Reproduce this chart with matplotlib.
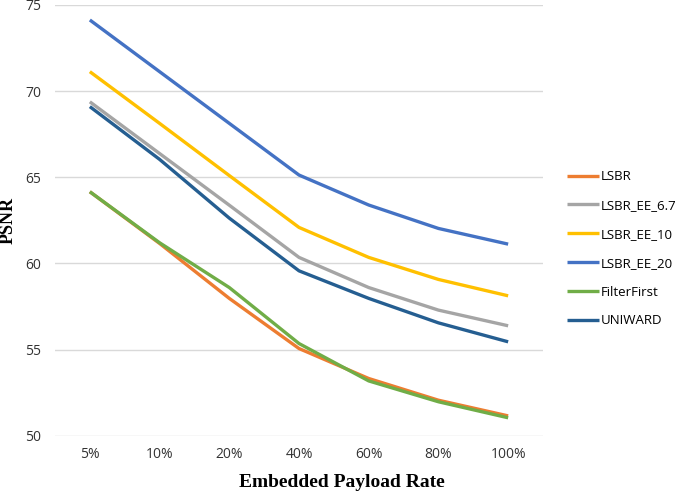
import matplotlib
matplotlib.use("Agg")
import matplotlib.pyplot as plt

categories = ["5%", "10%", "20%", "40%", "60%", "80%", "100%"]
lsbr = [64.16, 61.16, 57.97, 55.06, 53.32, 52.06, 51.15]
lsbr_ee_67 = [69.38, 66.38, 63.38, 60.35, 58.6, 57.29, 56.38]
lsbr_ee_10 = [71.13, 68.13, 65.1, 62.09, 60.35, 59.07, 58.12]
lsbr_ee_20 = [74.13, 71.13, 68.13, 65.13, 63.39, 62.03, 61.12]
filterfirst = [64.16, 61.2, 58.6, 55.35, 53.18, 51.97, 51.04]
uniward = [69.1, 66.04, 62.63, 59.57, 57.97, 56.55, 55.45]

series = [
    ("LSBR", lsbr, "#ED7D31"),
    ("LSBR_EE_6.7", lsbr_ee_67, "#A5A5A5"),
    ("LSBR_EE_10", lsbr_ee_10, "#FFC000"),
    ("LSBR_EE_20", lsbr_ee_20, "#4472C4"),
    ("FilterFirst", filterfirst, "#70AD47"),
    ("UNIWARD", uniward, "#255E91"),
]

plt.rcParams['font.family'] = ['Open Sans', 'DejaVu Sans']

fig = plt.figure(figsize=(6.85, 4.92), dpi=100)
ax = fig.add_axes([55/685, 1-435.7/492, (543-55)/685, (435.7-5)/492])

x = list(range(len(categories)))
handles = []
for name, vals, col in series:
    h, = ax.plot(x, vals, color=col, lw=2.4, label=name, solid_capstyle='butt', solid_joinstyle='round')
    handles.append(h)

ax.set_xlim(-0.5, len(categories) - 0.5)
ax.set_ylim(50, 75)
ax.set_yticks([50, 55, 60, 65, 70, 75])
ax.set_xticks(x)
ax.set_xticklabels(categories)
ax.grid(axis='y', color='#d9d9d9', lw=1)
ax.set_axisbelow(True)
for s in ax.spines.values():
    s.set_visible(False)
ax.tick_params(length=0, labelsize=10, colors='#333333', pad=8)
ax.tick_params(axis='y', pad=10)

ax.set_ylabel("PSNR", family='Liberation Serif', fontweight='bold', fontsize=13)
ax.yaxis.set_label_coords(-0.078, 0.5)
ax.set_xlabel("Embedded Payload Rate", family='Liberation Serif', fontweight='bold', fontsize=14)
ax.xaxis.set_label_coords((342 - 55) / 488, -(474 - 435.7) / 430.7)

fig.legend(handles=handles, loc='upper left', bbox_to_anchor=(562/685, 1-165/492),
           frameon=False, fontsize=9.5, handlelength=2.4, handletextpad=0.15,
           labelspacing=1.2, borderaxespad=0)

fig.savefig("out.png", dpi=100)
